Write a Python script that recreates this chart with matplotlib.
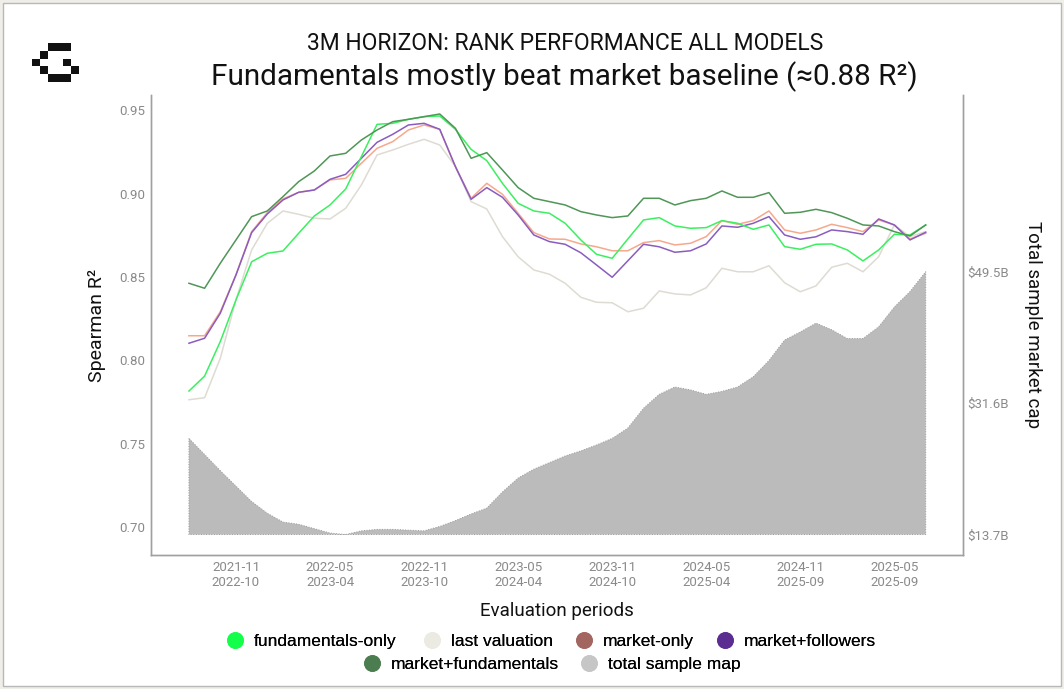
import matplotlib
matplotlib.use('Agg')
import matplotlib.pyplot as plt
from matplotlib.patches import Rectangle
from matplotlib.lines import Line2D

# --- Data ---
fundamentals_only = [0.7816, 0.7906, 0.8113, 0.8363, 0.8592, 0.8643, 0.8657, 0.8763,
                     0.8867, 0.8933, 0.9029, 0.9223, 0.9417, 0.9423, 0.9447, 0.9463,
                     0.9467, 0.9387, 0.9267, 0.9199, 0.9063, 0.8943, 0.8897, 0.8883,
                     0.8823, 0.8723, 0.8637, 0.8613, 0.8729, 0.8843, 0.8857, 0.8807,
                     0.8793, 0.8797, 0.8839, 0.8823, 0.8787, 0.8813, 0.8683, 0.8667,
                     0.8697, 0.8699, 0.8663, 0.8597, 0.8663, 0.8757, 0.8753, 0.8813]
last_valuation = [0.7764, 0.7776, 0.8013, 0.8363, 0.8663, 0.8823, 0.8897, 0.8877,
                  0.8853, 0.8849, 0.8913, 0.9053, 0.9233, 0.9263, 0.9297, 0.9327,
                  0.9293, 0.9163, 0.8953, 0.8909, 0.8743, 0.8622, 0.8543, 0.8517,
                  0.8463, 0.8379, 0.8349, 0.8346, 0.8292, 0.8313, 0.8417, 0.8399,
                  0.8393, 0.8436, 0.8553, 0.8532, 0.8532, 0.8568, 0.8466, 0.8412,
                  0.8447, 0.8559, 0.8583, 0.8532, 0.8622, 0.8813, 0.8743, 0.8773]
market_only = [0.8148, 0.8148, 0.8292, 0.8513, 0.8773, 0.8887, 0.8969, 0.9009,
               0.9023, 0.9083, 0.9093, 0.9183, 0.9273, 0.9313, 0.9383, 0.9413,
               0.9387, 0.9163, 0.8973, 0.9063, 0.8997, 0.8883, 0.8767, 0.8729,
               0.8727, 0.8699, 0.8682, 0.8658, 0.8658, 0.8707, 0.8719, 0.8693,
               0.8703, 0.8743, 0.8839, 0.8817, 0.8839, 0.8897, 0.8783, 0.8763,
               0.8783, 0.8817, 0.8797, 0.8773, 0.8843, 0.8813, 0.8729, 0.8763]
market_followers = [0.8103, 0.8133, 0.8283, 0.8513, 0.8767, 0.8879, 0.8963, 0.9009,
                    0.9023, 0.9087, 0.9117, 0.9213, 0.9309, 0.9357, 0.9413, 0.9423,
                    0.9387, 0.9163, 0.8967, 0.9037, 0.8979, 0.8873, 0.8753, 0.8713,
                    0.8697, 0.8646, 0.8573, 0.8499, 0.8598, 0.8697, 0.8682, 0.8649,
                    0.8658, 0.8699, 0.8807, 0.8799, 0.8823, 0.8863, 0.8753, 0.8727,
                    0.8742, 0.8783, 0.8773, 0.8757, 0.8849, 0.8813, 0.8723, 0.8769]
market_fundamentals = [0.8463, 0.8433, 0.8583, 0.8723, 0.8863, 0.8897, 0.8983, 0.9073,
                       0.9137, 0.9227, 0.9243, 0.9323, 0.9383, 0.9433, 0.9447, 0.9463,
                       0.9479, 0.9393, 0.9213, 0.9247, 0.9143, 0.9037, 0.8973, 0.8953,
                       0.8933, 0.8893, 0.8873, 0.8857, 0.8867, 0.8973, 0.8973, 0.8933,
                       0.8959, 0.8973, 0.9017, 0.8979, 0.8979, 0.9007, 0.8883, 0.8889,
                       0.8907, 0.8887, 0.8853, 0.8813, 0.8807, 0.8773, 0.8747, 0.8813]
# total sample market cap, $B
total_cap = [26.8, 24.6, 22.4, 20.3, 18.2, 16.6, 15.4, 15.1, 14.5, 13.9, 13.7, 14.2,
             14.4, 14.4, 14.3, 14.2, 14.8, 15.6, 16.5, 17.3, 19.5, 21.4, 22.6, 23.5,
             24.4, 25.1, 25.9, 26.8, 28.2, 30.9, 32.8, 33.8, 33.4, 32.8, 33.2, 33.8,
             35.2, 37.4, 40.2, 41.3, 42.5, 41.6, 40.4, 40.4, 42.0, 44.7, 46.8, 49.5]

tick_idx = [3, 9, 15, 21, 27, 33, 39, 45]
tick_starts = ['2021-11', '2022-05', '2022-11', '2023-05', '2023-11', '2024-05', '2024-11', '2025-05']
tick_ends = ['2022-10', '2023-04', '2023-10', '2024-04', '2024-10', '2025-04', '2025-09', '2025-09']
cap_ticks = [13.7, 31.6, 49.5]

legend_names = ['fundamentals-only', 'last valuation', 'market-only', 'market+followers',
                'market+fundamentals', 'total sample map']
legend_colors = ['#14ff4a', '#ebebe3', '#a3655f', '#5b2d91', '#4c7d50', '#c6c6c6']

x = list(range(len(total_cap)))

plt.rcParams['font.family'] = ['Roboto', 'DejaVu Sans']

W, H = 1064, 689
fig = plt.figure(figsize=(W / 100, H / 100), dpi=100)
fig.patch.set_facecolor('#efeee8')
fig.add_artist(Rectangle((3 / W, 3 / H), (W - 6) / W, (H - 6) / H, transform=fig.transFigure,
                         facecolor='white', edgecolor='#b8b8b8', lw=1.0, zorder=-10))

# pixel logo
logo_cells = [(2, 0), (3, 0), (4, 0), (1, 1), (0, 2), (4, 2), (1, 3), (5, 3), (2, 4), (3, 4), (4, 4)]
cw = 7.8
for c, r in logo_cells:
    x0 = 32 + c * cw
    y0 = 43 + r * cw
    fig.add_artist(Rectangle((x0 / W, 1 - (y0 + cw) / H), cw / W, cw / H,
                             transform=fig.transFigure, facecolor='#111111', edgecolor='none'))

ax = fig.add_axes([151 / W, 1 - 555 / H, (963 - 151) / W, (555 - 95) / H])
ax2 = ax.twinx()

ax2.fill_between(x, cap_ticks[0], total_cap, facecolor='#bbbbbb', edgecolor='#9a9a9a',
                 linewidth=0.7, linestyle=':')
ax2.set_ylim(10.91, 73.58)
ax2.set_yticks(cap_ticks)
ax2.set_yticklabels(['$%.1fB' % v for v in cap_ticks])

ax.set_zorder(ax2.get_zorder() + 1)
ax.patch.set_visible(False)

ax.plot(x, last_valuation, color='#dedbd3', lw=1.1)
ax.plot(x, market_only, color='#f6a88c', lw=1.1)
ax.plot(x, market_followers, color='#8a5cbf', lw=1.1)
ax.plot(x, fundamentals_only, color='#3bf060', lw=1.1)
ax.plot(x, market_fundamentals, color='#4f9657', lw=1.1)

ax.set_xlim(-2.42, 49.38)
ax.set_ylim(0.6832, 0.9593)
ax.set_yticks([0.70, 0.75, 0.80, 0.85, 0.90, 0.95])
ax.set_xticks(tick_idx)
ax.set_xticklabels([s + '\n' + e for s, e in zip(tick_starts, tick_ends)])

for a in (ax, ax2):
    a.tick_params(length=0, labelsize=9.5, labelcolor='#8a8a8a', pad=4)
    for sp in a.spines.values():
        sp.set_color('#a0a0a0')
        sp.set_linewidth(1.0)
    a.spines['top'].set_visible(False)
ax2.tick_params(pad=3)

ax.set_ylabel('Spearman R²', fontsize=14, color='#111111', labelpad=10)
ax2.set_ylabel('Total sample market cap', fontsize=13.5, color='#111111', rotation=270,
               labelpad=24)
ax.set_xlabel('Evaluation periods', fontsize=13.5, color='#111111', labelpad=10)

fig.text(565 / W, 1 - 44 / H, '3M HORIZON: RANK PERFORMANCE ALL MODELS', ha='center',
         va='center', fontsize=16.5, color='#111111')
fig.text(564 / W, 1 - 77 / H, 'Fundamentals mostly beat market baseline (≈0.88 R²)',
         ha='center', va='center', fontsize=21.3, color='#111111')

# legend: two centred rows, one small legend per entry
leg_font = {'family': ['Liberation Sans', 'DejaVu Sans'], 'size': 12.5}
slots = [(235, 641), (432, 641), (584, 641), (725, 641), (372, 664), (589, 664)]
for name, col, (mx, my) in zip(legend_names, legend_colors, slots):
    h = Line2D([], [], marker='o', linestyle='none', markersize=11,
               markerfacecolor=col, markeredgecolor=col)
    leg = fig.legend([h], [name], loc='center left', bbox_to_anchor=((mx - 8.7) / W, 1 - my / H),
                     frameon=False, prop=leg_font, handlelength=1.0, handletextpad=0.6,
                     borderpad=0, borderaxespad=0)
    fig.add_artist(leg)

fig.savefig('out.png', dpi=100, facecolor=fig.get_facecolor())
